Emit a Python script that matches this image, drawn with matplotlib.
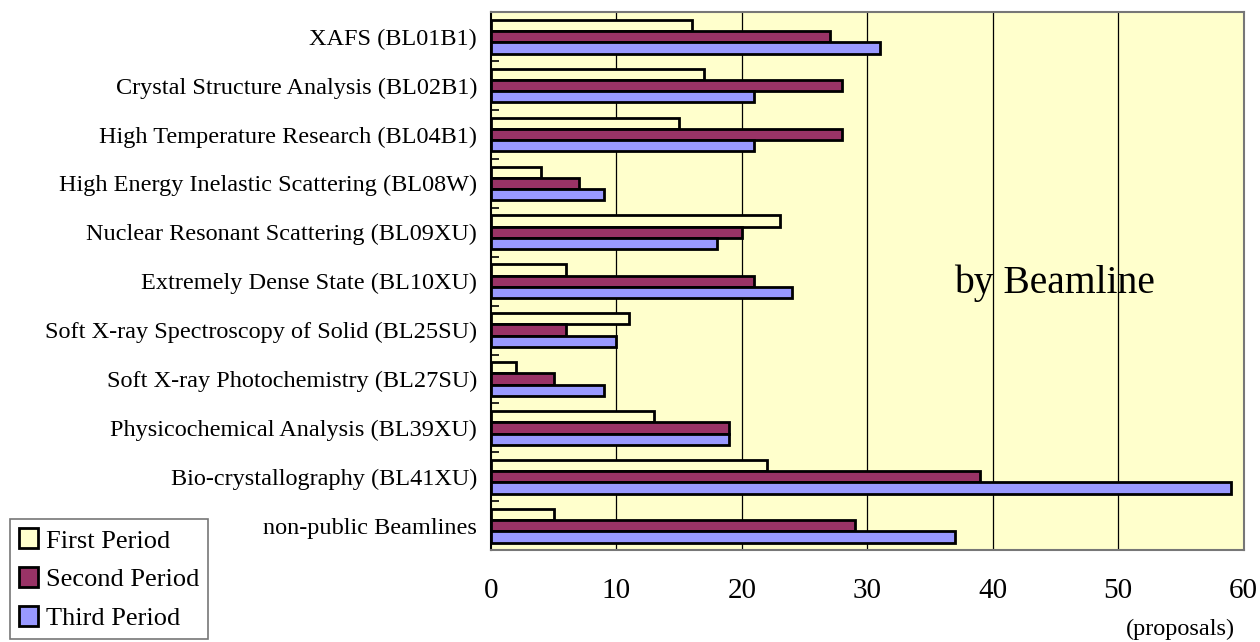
import numpy as np
import matplotlib.pyplot as plt
from matplotlib.patches import Patch

# beamlines, top to bottom as in the chart
beamlines = [
    "XAFS (BL01B1)",
    "Crystal Structure Analysis (BL02B1)",
    "High Temperature Research (BL04B1)",
    "High Energy Inelastic Scattering (BL08W)",
    "Nuclear Resonant Scattering (BL09XU)",
    "Extremely Dense State (BL10XU)",
    "Soft X-ray Spectroscopy of Solid (BL25SU)",
    "Soft X-ray Photochemistry (BL27SU)",
    "Physicochemical Analysis (BL39XU)",
    "Bio-crystallography (BL41XU)",
    "non-public Beamlines",
]
first_period = [16, 17, 15, 4, 23, 6, 11, 2, 13, 22, 5]
second_period = [27, 28, 28, 7, 20, 21, 6, 5, 19, 39, 29]
third_period = [31, 21, 21, 9, 18, 24, 10, 9, 19, 59, 37]
series_names = ["First Period", "Second Period", "Third Period"]
x_ticks = [0, 10, 20, 30, 40, 50, 60]

colors = ["#FFFFCC", "#993366", "#9999FF"]

plt.rcParams["font.family"] = ["Liberation Serif", "DejaVu Serif"]

fig = plt.figure(figsize=(12.6, 6.42), dpi=100)
ax = fig.add_axes([0.3897, 0.143, 0.5973, 0.838])
ax.set_facecolor("#FFFFCC")

y = np.arange(len(beamlines))
h = 0.23
for i, vals in enumerate([first_period, second_period, third_period]):
    ax.barh(y + (i - 1) * h, vals, height=h, color=colors[i],
            edgecolor="black", linewidth=2, zorder=3)

ax.set_xlim(0, 60)
ax.set_ylim(len(beamlines) - 0.5, -0.5)
ax.set_xticks(x_ticks)
ax.set_xticklabels([str(t) for t in x_ticks], fontsize=21)
ax.tick_params(axis="x", length=0, pad=20)
for t in x_ticks[1:-1]:
    ax.axvline(t, color="black", linewidth=0.9, zorder=1)

# category labels at group centers, small ticks at group boundaries
ax.set_yticks(y)
ax.set_yticklabels(beamlines, fontsize=17.5)
ax.tick_params(axis="y", length=0, pad=10)
ax.set_yticks(np.arange(len(beamlines)) - 0.5, minor=True)
ax.tick_params(axis="y", which="minor", direction="in", length=6, width=1.2)

for side in ["top", "right", "bottom"]:
    ax.spines[side].set_color("#777777")
    ax.spines[side].set_linewidth(1.5)
ax.spines["left"].set_color("black")
ax.spines["left"].set_linewidth(1.5)

ax.text(44.9, 5.05, "by Beamline", fontsize=28.5, ha="center", va="center", zorder=4)
fig.text(0.937, 0.019, "(proposals)", fontsize=17.5, ha="center", va="center")

handles = [Patch(facecolor=c, edgecolor="black", linewidth=2) for c in colors]
leg = fig.legend(handles, series_names, loc="lower left",
                 bbox_to_anchor=(0.006, 0.0), fontsize=19, frameon=True,
                 fancybox=False, edgecolor="#555555", handlelength=0.7,
                 handleheight=0.8, handletextpad=0.3, labelspacing=0.55,
                 borderpad=0.35, borderaxespad=0.1)
leg.get_frame().set_linewidth(1.2)

fig.savefig("out.png", dpi=100)
